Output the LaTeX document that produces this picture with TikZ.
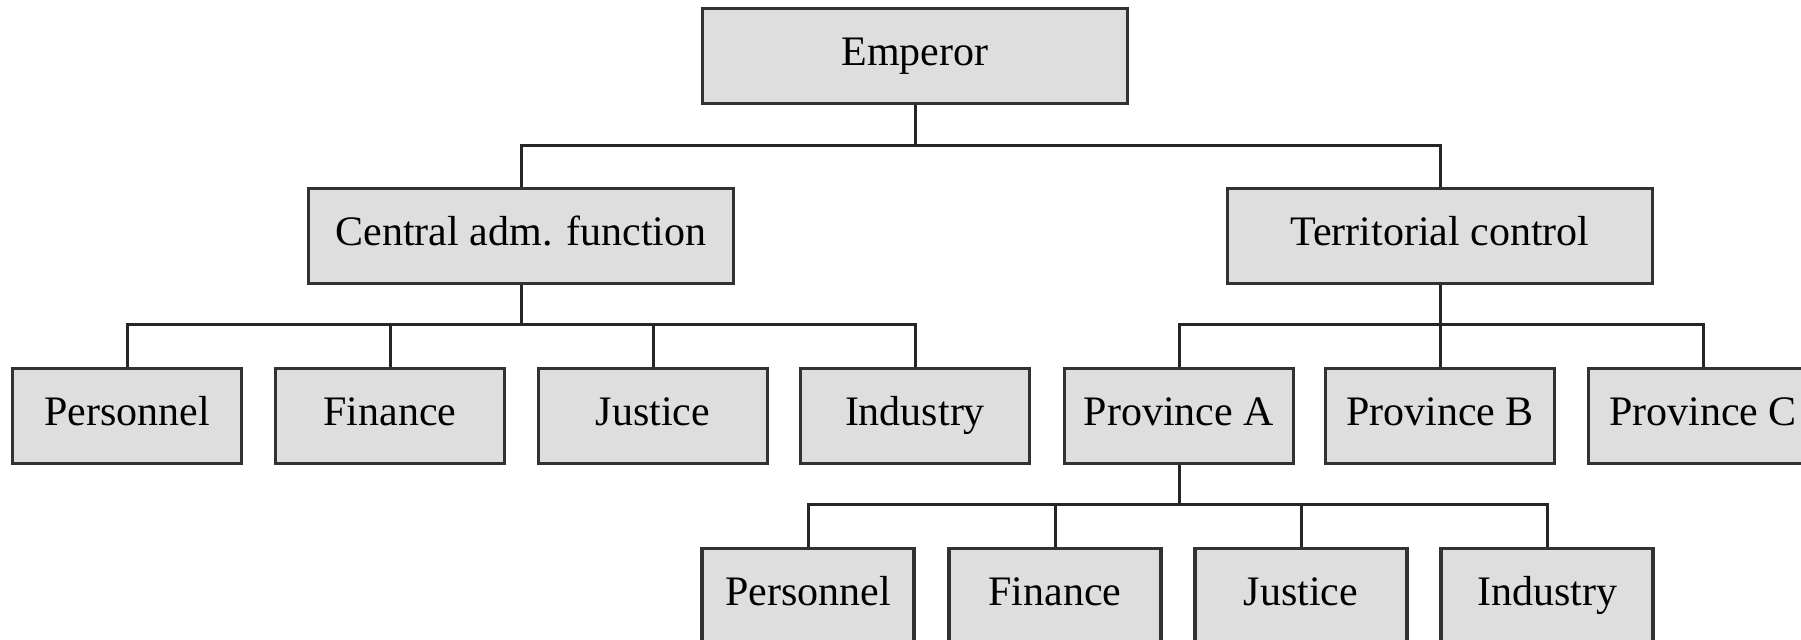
\documentclass[tikz,border=0pt]{standalone}
\usepackage{fontspec}
\setmainfont{Liberation Serif}
\definecolor{boxfill}{RGB}{222,222,222}
\definecolor{boxline}{RGB}{50,50,50}

\begin{document}
\begin{tikzpicture}[x=0.25pt, y=-0.25pt,
  every node/.style={font=\fontsize{10.5}{12}\selectfont},
  unit/.style={draw=boxline, fill=boxfill, line width=0.8pt, minimum height=23.75pt,
    inner sep=0pt, text height=7.2pt, text depth=2.2pt},
  topbox/.style={unit, minimum width=106.25pt},
  deptbox/.style={unit, minimum width=57.25pt},
  subbox/.style={unit, minimum width=53pt},
  link/.style={line width=0.75pt, black!85}]
\useasboundingbox (0,0) rectangle (1801,640);

% Top level
\node[topbox] (emperor) at (915,56) {Emperor};

% Second level
\node[topbox] (central) at (521,236) {Central adm. function};
\node[topbox] (territorial) at (1440,236) {Territorial control};

% Third level
\node[deptbox] (personnel) at (127,416) {Personnel};
\node[deptbox] (finance) at (390,416) {Finance};
\node[deptbox] (justice) at (653,416) {Justice};
\node[deptbox] (industry) at (915,416) {Industry};
\node[deptbox] (provA) at (1179,416) {Province A};
\node[deptbox] (provB) at (1440,416) {Province B};
\node[deptbox] (provC) at (1703,416) {Province C};

% Fourth level
\node[subbox] (personnelA) at (808,596) {Personnel};
\node[subbox] (financeA) at (1055,596) {Finance};
\node[subbox] (justiceA) at (1301,596) {Justice};
\node[subbox] (industryA) at (1547,596) {Industry};

% Connectors
\coordinate (busA) at (915,146);
\draw[link] (emperor.south) -- (busA);
\draw[link] (central.north) |- (busA) -| (territorial.north);

\coordinate (busB) at (521,325);
\draw[link] (central.south) -- (busB);
\foreach \n in {personnel,finance,justice,industry}
  \draw[link] (\n.north) |- (busB);

\coordinate (busC) at (1440,325);
\draw[link] (territorial.south) -- (busC);
\foreach \n in {provA,provB,provC}
  \draw[link] (\n.north) |- (busC);

\coordinate (busD) at (1179,505);
\draw[link] (provA.south) -- (busD);
\foreach \n in {personnelA,financeA,justiceA,industryA}
  \draw[link] (\n.north) |- (busD);
\end{tikzpicture}
\end{document}
